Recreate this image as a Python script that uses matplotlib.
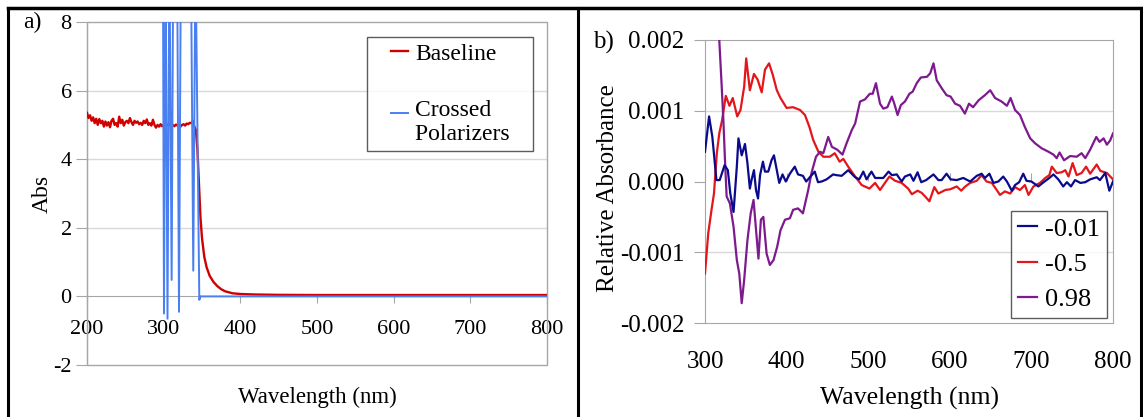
import numpy as np
import matplotlib
matplotlib.use("Agg")
import matplotlib.pyplot as plt
from matplotlib.lines import Line2D
from matplotlib.patches import Rectangle
from matplotlib.legend_handler import HandlerLine2D

plt.rcParams['font.family'] = ['Liberation Serif', 'DejaVu Serif']
plt.rcParams['axes.unicode_minus'] = False

# ---- panel a: absorbance (Abs) vs wavelength (nm) ----
baseline_nm = [200, 202, 204, 206, 208, 210, 212, 214, 216, 218, 220, 222, 224, 226, 228,
               230, 232, 234, 236, 238, 240, 242, 244, 246, 248, 250, 252, 254, 256, 258,
               260, 262, 264, 266, 268, 270, 272, 274, 276, 278, 280, 282, 284, 286, 288,
               290, 292, 294, 296, 298, 300, 302, 304, 306, 308, 310, 312, 314, 316, 318,
               320, 322, 324, 326, 328, 330, 332, 334, 336, 338, 340, 342,
               344, 346, 348, 350, 353, 356, 360, 365, 370, 375, 380, 390, 400, 420,
               450, 500, 600, 700, 800]
baseline_abs = [5.35, 5.2, 5.28, 5.12, 5.22, 5.05, 5.18, 5.0, 5.17, 5.05, 5.12, 4.95, 5.1, 4.98, 5.08,
                4.93, 5.12, 5.18, 5.0, 5.05, 4.95, 5.24, 5.05, 5.15, 4.98, 5.08, 5.12, 5.05, 5.2, 5.08,
                5.0, 5.12, 5.06, 5.1, 5.02, 5.06, 5.0, 5.12, 5.05, 5.16, 5.0, 5.05, 4.98, 5.15, 5.0,
                4.92, 5.0, 4.95, 5.02, 4.96, 5.0, 4.95, 5.02, 4.98, 5.04, 4.97, 5.0, 4.96, 5.01, 4.98,
                5.0, 4.95, 5.0, 5.02, 4.98, 5.04, 5.02, 5.06, 5.05, 5.12, 4.95, 4.85,
                4.3, 3.3, 2.3, 1.7, 1.15, 0.85, 0.6, 0.42, 0.3, 0.21, 0.15, 0.09, 0.07, 0.055,
                0.045, 0.04, 0.04, 0.04, 0.04]

crossed_nm = [299, 300.4, 302.4, 305.0, 307.5, 310.4, 312.5, 317.5, 320.0, 322.5,
              335.5, 338.6, 341.5, 346.5, 348, 800]
crossed_abs = [10, -0.5, 10, -0.65, 10, 0.48, 10, 10, -0.45, 10,
               10, 0.75, 10, -0.1, 0.0, 0.0]

# ---- panel b: relative absorbance (x 1e-3) vs wavelength (nm) ----
nm_m001 = [300, 305, 309, 314, 318, 324, 328, 331, 335, 339, 341, 345, 349, 352, 355, 357, 360,
           362.5, 365, 367.5, 371, 373.5, 377.5, 381.5, 384.5, 388, 391, 395, 399, 404, 410, 414,
           420, 424, 430, 434.5, 438.5, 443, 449, 457, 461, 467.5, 475.5, 484, 489, 494, 498, 504,
           508.5, 518.5, 525, 529, 535, 541, 545, 551.5, 555.5, 560.5, 565, 571, 580, 586, 590,
           596, 601, 608.5, 616.5, 625, 633, 639, 643, 648.5, 653.5, 659.5, 665.5, 670, 676, 680,
           685, 690, 694, 700, 708.5, 715, 722, 727, 733, 739, 743.5, 748.5, 753.5, 760, 766, 772,
           780, 784, 790.5, 795.5, 800]
rel_m001 = [0.42, 0.92, 0.63, 0.02, 0.02, 0.23, 0.16, -0.17, -0.43, 0.21, 0.61, 0.37, 0.53, 0.26,
            -0.10, 0.02, 0.16, -0.12, -0.24, 0.09, 0.28, 0.14, 0.14, 0.30, 0.37, 0.16, -0.02, 0.10,
            0.0, 0.11, 0.21, 0.10, 0.08, 0.0, 0.08, 0.14, -0.01, 0.0, 0.03, 0.10, 0.09, 0.08, 0.16,
            0.06, 0.03, 0.14, 0.03, 0.14, 0.05, 0.05, 0.14, 0.09, 0.10, 0.0, 0.07, 0.10, 0.01, 0.13,
            -0.01, 0.02, 0.10, 0.02, 0.02, 0.11, 0.03, 0.02, 0.05, 0.0, 0.08, 0.11, 0.05, 0.11,
            -0.02, 0.0, 0.07, 0.0, -0.13, -0.05, -0.01, 0.11, 0.01, 0.0, -0.07, -0.01, 0.05, 0.10,
            0.03, -0.07, -0.01, -0.07, 0.02, -0.02, -0.01, 0.03, 0.06, 0.02, 0.12, -0.13, 0.0]

nm_m05 = [300, 304, 308, 311, 314.5, 317.5, 321, 325.5, 330, 334, 339.5, 343.5, 348, 350.5, 355,
          360, 364.5, 369.5, 373.5, 378.5, 383, 388, 392.5, 400, 408, 416.5, 422.5, 428, 432.5,
          439, 445, 453, 459, 465, 469.5, 475.5, 484, 492, 501.5, 508.5, 514.5, 520.5, 526, 533,
          541, 549, 553.5, 560.5, 565.5, 572, 575, 581, 586, 594.5, 600.5, 608.5, 614, 619, 625,
          633, 639, 645, 651.5, 657.5, 661.5, 667.5, 674, 680, 686, 692, 696.5, 702.5, 710.5, 717,
          722, 725, 731, 737, 741.5, 745.5, 750.5, 755.5, 761.5, 767, 772, 780, 784.5, 792.5, 800]
rel_m05 = [-1.30, -0.73, -0.40, -0.17, 0.40, 0.68, 0.87, 1.21, 1.07, 1.18, 0.92, 1.01, 1.34, 1.74,
           1.29, 1.52, 1.44, 1.26, 1.58, 1.67, 1.51, 1.29, 1.18, 1.04, 1.05, 1.01, 0.94, 0.77, 0.59,
           0.42, 0.35, 0.35, 0.40, 0.28, 0.32, 0.21, 0.07, -0.05, -0.10, -0.02, -0.12, -0.02, 0.07,
           0.01, -0.02, -0.10, -0.18, -0.13, -0.16, -0.24, -0.28, -0.08, -0.17, -0.12, -0.11, -0.07,
           -0.13, -0.07, -0.02, 0.01, 0.09, 0.0, -0.02, -0.12, -0.19, -0.14, -0.17, -0.08, -0.12,
           -0.05, -0.19, -0.07, -0.02, 0.05, 0.09, 0.21, 0.12, 0.13, 0.16, 0.07, 0.26, 0.09, 0.12,
           0.21, 0.11, 0.24, 0.15, 0.12, 0.03]

nm_098 = [300, 314, 317.5, 320.5, 322.5, 324.5, 326.5, 330.5, 335, 339, 342, 345, 348, 352, 356,
          359.5, 361.5, 365.5, 368.5, 371.5, 375.5, 379.5, 384, 388.5, 392.5, 398, 404, 408, 414,
          420, 426.5, 430.5, 436, 441, 445, 451, 455.5, 462, 468.5, 473.5, 480, 484, 490, 496, 502,
          505.5, 509.5, 514.5, 518.5, 523.5, 529, 532, 536, 540, 545, 550.5, 554.5, 559.5, 564.5,
          572, 576, 580, 584, 590, 596, 601, 606.5, 612.5, 618.5, 623.5, 628.5, 635.5, 643, 649.5,
          655.5, 663.5, 670, 674.5, 680, 686, 692, 698.5, 704.5, 712.5, 721, 727, 731, 734.5, 740,
          747.5, 755.5, 761.5, 766, 772, 779.5, 783.5, 788.5, 792.5, 796.5, 800]
rel_098 = [4.5, 2.8, 2.0, 1.34, 0.87, 0.30, -0.21, -0.31, -0.64, -1.11, -1.30, -1.72, -1.39, -0.83,
           -0.45, -0.26, -0.54, -1.09, -0.54, -0.50, -1.02, -1.18, -1.11, -0.92, -0.69, -0.54, -0.52,
           -0.40, -0.38, -0.45, -0.12, 0.12, 0.35, 0.42, 0.40, 0.63, 0.49, 0.45, 0.38, 0.54, 0.73,
           0.82, 1.13, 1.16, 1.24, 1.24, 1.39, 1.10, 1.03, 1.05, 1.20, 1.10, 0.94, 1.08, 1.13, 1.24,
           1.27, 1.39, 1.47, 1.48, 1.53, 1.67, 1.43, 1.32, 1.22, 1.20, 1.10, 1.07, 0.96, 1.10, 1.05,
           1.15, 1.22, 1.29, 1.18, 1.13, 1.07, 1.18, 1.01, 0.94, 0.77, 0.61, 0.54, 0.47, 0.42, 0.38,
           0.33, 0.41, 0.30, 0.36, 0.35, 0.40, 0.33, 0.45, 0.63, 0.56, 0.61, 0.52, 0.58, 0.68]


class ShortLineHandler(HandlerLine2D):
    # legend line drawn only on the right part of the handle box, optionally moved up
    def __init__(self, start_frac=0.0, yshift=0.0, **kw):
        super().__init__(**kw)
        self.start_frac = start_frac
        self.yshift = yshift

    def create_artists(self, legend, orig_handle, xdescent, ydescent, width, height, fontsize, trans):
        arts = super().create_artists(legend, orig_handle, xdescent, ydescent, width, height,
                                      fontsize, trans)
        for a in arts:
            xd = np.asarray(a.get_xdata(), float)
            yd = np.asarray(a.get_ydata(), float)
            x0 = xd[0] + self.start_frac * (xd[-1] - xd[0])
            a.set_xdata(np.linspace(x0, xd[-1], len(xd)))
            a.set_ydata(yd + self.yshift * fontsize)
        return arts


W, H = 1143, 417
fig = plt.figure(figsize=(W / 100, H / 100), dpi=100)
grey = '#a6a6a6'
gridc = '#d9d9d9'

# ---------------- panel a ----------------
axa = fig.add_axes([87 / W, 1 - 365 / H, 460 / W, 343 / H])
l_base, = axa.plot(baseline_nm, baseline_abs, color='#d00000', lw=1.7, label='Baseline', zorder=3)
l_cross, = axa.plot(crossed_nm, crossed_abs, color='#4a7ff0', lw=1.4,
                    label='Crossed\nPolarizers   ', zorder=4)
axa.set_xlim(200, 800)
axa.set_ylim(-2, 8)
axa.set_yticks([-2, 0, 2, 4, 6, 8])
axa.set_xticks([200, 300, 400, 500, 600, 700, 800])
for yv in [2, 4, 6]:
    axa.axhline(yv, color=gridc, lw=1, zorder=1)
axa.spines['bottom'].set_position(('data', 0))
for s in ['top', 'right']:
    axa.spines[s].set_visible(False)
for s in ['bottom', 'left']:
    axa.spines[s].set_color(grey)
axa.add_patch(Rectangle((0, 0), 1, 1, transform=axa.transAxes, fill=False,
                        ec=grey, lw=1, clip_on=False, zorder=2))
axa.tick_params(axis='x', direction='out', length=5, color=grey, pad=12, labelsize=16)
axa.tick_params(axis='y', direction='out', length=8, color=grey, pad=3, labelsize=16)
axa.set_ylabel('Abs', fontsize=17)
axa.yaxis.set_label_coords(-0.075, 0.5)
axa.set_xlabel('Wavelength (nm)', fontsize=16.5)
axa.xaxis.set_label_coords(0.5, -0.065)
leg = axa.legend(loc='upper right', bbox_to_anchor=(0.970, 0.956), borderaxespad=0,
                 fontsize=17, frameon=True, fancybox=False, handlelength=1.5,
                 handletextpad=0.3, labelspacing=1.5, borderpad=0.25,
                 handler_map={l_base: ShortLineHandler(0.52, 0.0),
                              l_cross: ShortLineHandler(0.52, 0.38)})
leg.get_frame().set_edgecolor('#333333')
leg.get_frame().set_linewidth(1)
fig.text(23 / W, 1 - 22 / H, 'a)', fontsize=17, va='center', ha='left')

# ---------------- panel b ----------------
axb = fig.add_axes([705 / W, 1 - 323 / H, 408 / W, 283 / H])
axb.plot(nm_m001, np.array(rel_m001) * 1e-3, color='#0a0a8c', lw=1.6, label='-0.01', zorder=4)
axb.plot(nm_m05, np.array(rel_m05) * 1e-3, color='#e3161c', lw=1.6, label='-0.5', zorder=3)
axb.plot(nm_098, np.array(rel_098) * 1e-3, color='#7d1a8e', lw=1.6, label='0.98', zorder=3)
axb.set_xlim(300, 800)
axb.set_ylim(-0.002, 0.002)
axb.set_yticks([-0.002, -0.001, 0.0, 0.001, 0.002])
axb.set_yticklabels(['-0.002', '-0.001', '0.000', '0.001', '0.002'])
axb.set_xticks([300, 400, 500, 600, 700, 800])
for yv in [-0.001, 0.001]:
    axb.axhline(yv, color=gridc, lw=1, zorder=1)
for s in axb.spines.values():
    s.set_color(grey)
axb.tick_params(axis='x', length=0, pad=20, labelsize=18)
axb.tick_params(axis='y', direction='out', length=8, color=grey, pad=7, labelsize=18)
zero_ax = axb.secondary_xaxis(0.5)
zero_ax.set_xticks([300, 400, 500, 600, 700, 800])
zero_ax.tick_params(direction='out', length=6, color=grey, labelbottom=False, labeltop=False)
zero_ax.spines['bottom'].set_color(grey)
for s in ['top', 'left', 'right']:
    zero_ax.spines[s].set_visible(False)
axb.set_ylabel('Relative Absorbance', fontsize=18)
axb.yaxis.set_label_coords(-0.21, 0.477)
axb.set_xlabel('Wavelength (nm)', fontsize=18.5)
axb.xaxis.set_label_coords(0.5, -0.225)
legb = axb.legend(loc='lower right', bbox_to_anchor=(0.985, 0.018), borderaxespad=0,
                  fontsize=19, frameon=True, fancybox=False, handlelength=0.75,
                  handletextpad=0.3, labelspacing=0.45, borderpad=0.25)
legb.get_frame().set_edgecolor('#333333')
legb.get_frame().set_linewidth(1)
fig.text(593 / W, 1 - 42 / H, 'b)', fontsize=18, va='center', ha='left')

# ---------------- outer frame ----------------
ytop = 1 - 8 / H
for xv in [8 / W, 578 / W, 1141 / W]:
    fig.add_artist(Line2D([xv, xv], [0, ytop], transform=fig.transFigure, color='black', lw=2.2))
fig.add_artist(Line2D([8 / W, 1141 / W], [ytop, ytop], transform=fig.transFigure,
                      color='black', lw=2.5))

fig.savefig('out.png', dpi=100)
